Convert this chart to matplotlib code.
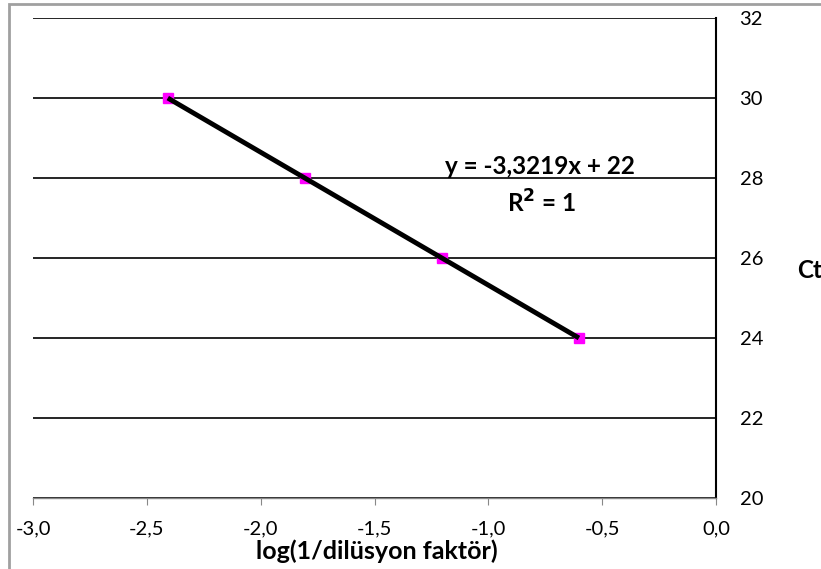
import matplotlib
matplotlib.use("Agg")
import matplotlib.pyplot as plt
from matplotlib.patches import Rectangle
from matplotlib.ticker import FuncFormatter, MultipleLocator

plt.rcParams["font.family"] = ["Lato", "DejaVu Sans"]

# seyreltme noktalari
log_dil = [-2.408, -1.806, -1.204, -0.602]
ct_vals = [30, 28, 26, 24]
slope = -3.3219
intercept = 22

W, H = 821, 569
fig = plt.figure(figsize=(W / 100, H / 100), dpi=100)
fig.patch.set_facecolor("white")

# dis cerceve (sag ve alt kenar resmin disinda)
fig.patches.append(Rectangle((9 / W, -0.1), 1.2, 1 - 4 / H + 0.1,
                             transform=fig.transFigure, fill=False,
                             edgecolor="#a0a0a0", linewidth=2))

ax = fig.add_axes([33 / W, 1 - 498 / H, (716 - 33) / W, (498 - 18) / H])
ax.set_xlim(-3, 0)
ax.set_ylim(20, 32)

ax.yaxis.tick_right()
ax.xaxis.set_major_locator(MultipleLocator(0.5))
ax.yaxis.set_major_locator(MultipleLocator(2))
ax.xaxis.set_major_formatter(FuncFormatter(lambda v, _: f"{v:.1f}".replace(".", ",")))
ax.yaxis.set_major_formatter(FuncFormatter(lambda v, _: f"{int(v)}"))

for s in ["top", "left"]:
    ax.spines[s].set_visible(False)
ax.spines["bottom"].set_color("#888888")
ax.spines["bottom"].set_linewidth(1)
ax.spines["right"].set_color("black")
ax.spines["right"].set_linewidth(1.5)

ax.tick_params(axis="x", direction="out", length=5, color="#888888",
               labelsize=14.5, pad=11)
ax.tick_params(axis="y", length=0, labelsize=14.5, pad=17)

ax.yaxis.grid(True, color="black", linewidth=1.2)
ax.set_axisbelow(True)

# trend cizgisi
x0, x1 = min(log_dil), max(log_dil)
ax.plot([x0, x1], [slope * x0 + intercept, slope * x1 + intercept],
        color="black", linewidth=3.5, zorder=3, solid_capstyle="butt")
ax.plot(log_dil, ct_vals, linestyle="none", marker="s", markersize=7,
        color="#ff00ff", zorder=2)

ax.text(540 / W, 1 - 166 / H, "y = -3,3219x + 22", transform=fig.transFigure,
        ha="center", va="center", fontsize=17.5, fontweight="bold")
ax.text(541 / W, 1 - 203 / H, "R$^{\\mathbf{2}}$ = 1", transform=fig.transFigure,
        ha="center", va="center", fontsize=17.5, fontweight="bold")

fig.text(377 / W, 1 - 551 / H, "log(1/dilüsyon faktör)", ha="center",
         va="center", fontsize=18, fontweight="bold")
fig.text(797 / W, 1 - 270 / H, "Ct", ha="left", va="center",
         fontsize=17.5, fontweight="bold")

fig.savefig("out.png", dpi=100)
